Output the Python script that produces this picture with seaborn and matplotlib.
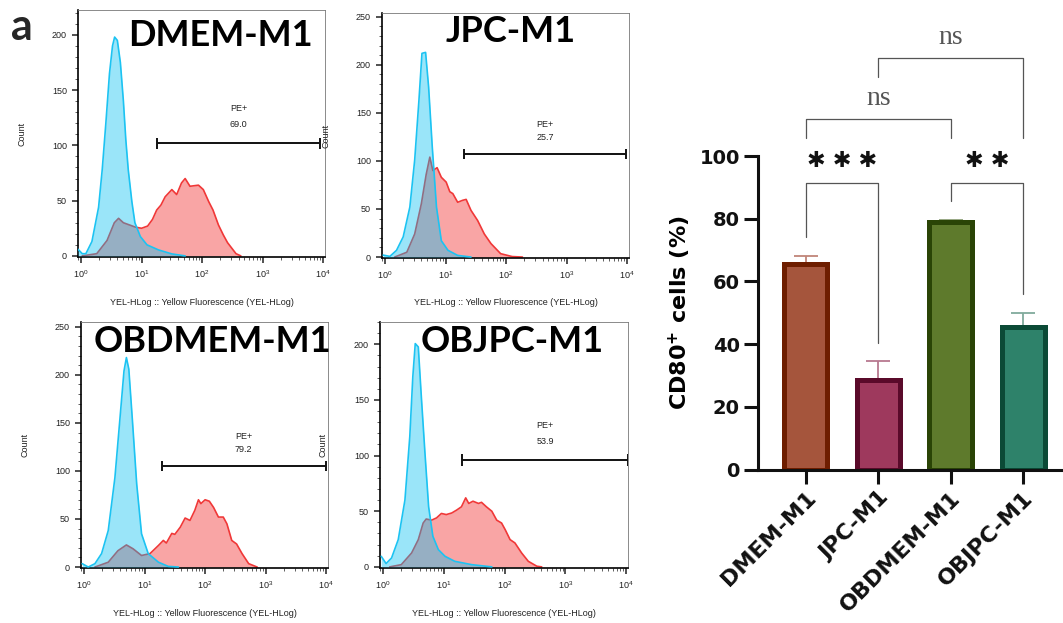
import numpy as np
import pandas as pd
import matplotlib
matplotlib.use("Agg")
import matplotlib.pyplot as plt
from matplotlib.ticker import MultipleLocator, LogLocator, NullFormatter
import seaborn as sns

# ---- bar chart data (CD80+ %) ----
groups = ["DMEM-M1", "JPC-M1", "OBDMEM-M1", "OBJPC-M1"]
cd80_mean = [65.5, 28.5, 79.0, 45.6]
cd80_err = [2.7, 6.0, 0.6, 4.2]
bar_fill = ["#A5553C", "#9E395D", "#5E7A2C", "#2E826A"]
bar_edge = ["#6E1E00", "#5A0A2A", "#2A4406", "#0B4A36"]
err_color = ["#C08578", "#B87890", "#8FA07A", "#80AA9C"]

# significance brackets: pair, label, top, left leg end, right leg end
sig_pairs = [(0, 1), (2, 3), (0, 2), (1, 3)]
sig_labels = ["***", "**", "ns", "ns"]
sig_tops = [91.5, 91.5, 111.7, 131.2]
sig_left_ends = [74.3, 85.6, 105.6, 125.1]
sig_right_ends = [40.5, 56.0, 105.6, 105.6]

# ---- flow histograms: log10 fluorescence, count ----
dmem_blue_x = [-0.05, 0.02, 0.08, 0.18, 0.29, 0.35, 0.41, 0.47, 0.52, 0.555, 0.60, 0.65,
               0.70, 0.74, 0.78, 0.84, 0.89, 0.98, 1.09, 1.28, 1.50, 1.72]
dmem_blue_y = [6, 2, 2, 13, 44, 78, 120, 165, 190, 198, 195, 175,
               140, 105, 78, 49, 30, 17.5, 10, 5.4, 1.8, 0]
dmem_red_x = [0.02, 0.26, 0.43, 0.55, 0.62, 0.70, 0.80, 0.90, 1.00, 1.10, 1.18, 1.25, 1.32,
              1.39, 1.50, 1.58, 1.66, 1.72, 1.80, 1.94, 2.02, 2.11, 2.18, 2.27, 2.35, 2.42,
              2.49, 2.56, 2.64]
dmem_red_y = [0, 2, 14, 30, 34, 30, 28, 26, 25, 27, 33, 41.5, 46,
              53.5, 60, 55.5, 66, 70, 63, 64, 60, 49, 41.5, 28, 19, 12,
              7, 2, 0]

jpc_blue_x = [-0.03, 0.08, 0.19, 0.30, 0.41, 0.49, 0.56, 0.61, 0.67, 0.72, 0.78, 0.85,
              0.93, 1.04, 1.20, 1.42]
jpc_blue_y = [2, 0.7, 7, 21, 52, 101, 163, 212, 213, 177, 115, 52,
              17, 7, 1.7, 0]
jpc_red_x = [0.16, 0.36, 0.49, 0.60, 0.68, 0.74, 0.79, 0.86, 0.93, 1.01, 1.07, 1.12, 1.20,
             1.28, 1.34, 1.42, 1.53, 1.64, 1.75, 1.91, 2.10, 2.27]
jpc_red_y = [0, 5, 24, 55.5, 86, 104, 90, 93, 83, 78, 68, 66, 57,
             59, 60, 48.6, 38, 24, 14, 3.5, 0.5, 0]

obdmem_blue_x = [-0.03, 0.07, 0.18, 0.29, 0.40, 0.51, 0.59, 0.66, 0.70, 0.74, 0.80, 0.87,
                 0.95, 1.06, 1.23, 1.39, 1.56]
obdmem_blue_y = [3.5, 0, 3.5, 14, 38, 93, 152, 204, 218, 206, 152, 86.5,
                 34.6, 14, 5, 0.7, 0]
obdmem_red_x = [0.18, 0.40, 0.56, 0.70, 0.81, 0.95, 1.09, 1.23, 1.31, 1.36, 1.45, 1.50, 1.59,
                1.67, 1.75, 1.83, 1.89, 1.93, 2.00, 2.07, 2.14, 2.22, 2.30, 2.36, 2.44, 2.52,
                2.61, 2.72, 2.86]
obdmem_red_y = [0, 5, 17, 23, 19, 12, 14, 22.5, 27.7, 25, 35, 34, 41.5,
                51, 48.5, 59, 70, 66, 70, 68.5, 62, 52, 52, 45, 27.7, 24,
                14, 3.5, 0]

objpc_blue_x = [-0.03, 0.05, 0.14, 0.25, 0.36, 0.44, 0.49, 0.53, 0.58, 0.63, 0.69, 0.75,
                0.82, 0.91, 1.02, 1.18, 1.46, 1.79]
objpc_blue_y = [9.5, 3, 8, 24.5, 60, 117, 171, 200.6, 197.6, 153, 102, 54,
                27.5, 15.5, 9.5, 5, 2, 0]
objpc_red_x = [0.11, 0.30, 0.47, 0.58, 0.66, 0.71, 0.80, 0.88, 0.96, 1.04, 1.13, 1.21, 1.29,
               1.36, 1.41, 1.48, 1.57, 1.62, 1.70, 1.79, 1.87, 1.95, 2.01, 2.09, 2.17, 2.28,
               2.39, 2.53, 2.61]
objpc_red_y = [0, 2, 12.5, 24.5, 39.4, 43, 42, 44, 48, 47, 48.4, 51, 54,
               62, 57, 59, 57, 58, 54, 50, 42, 39.4, 33.4, 24.5, 21.5, 12.5,
               5, 0.6, 0]

panel_names = ["DMEM-M1", "JPC-M1", "OBDMEM-M1", "OBJPC-M1"]
pe_pct = ["69.0", "25.7", "79.2", "53.9"]
gate_lo = [1.25, 1.30, 1.28, 1.30]
gate_hi = [3.95, 3.98, 3.99, 4.03]
gate_y = [102, 107, 105, 96]

sns.set_style("ticks")
plt.rcParams["font.family"] = ["Liberation Sans", "DejaVu Sans"]
plt.rcParams["mathtext.fontset"] = "custom"
plt.rcParams["mathtext.rm"] = "Liberation Sans"
plt.rcParams["mathtext.bf"] = "DejaVu Sans:bold"

W, H = 1063, 623
fig = plt.figure(figsize=(10.63, 6.23), dpi=100)
fig.patch.set_facecolor("white")


def px_axes(l, t, r, b):
    return fig.add_axes([l / W, 1 - b / H, (r - l) / W, (b - t) / H])


boxes = [(78, 10, 325, 257), (382, 13, 629, 258), (81, 322, 328, 568), (380, 322, 628, 568)]
ytops = [222.5, 254, 255, 220]
name_xy = [(220, 35), (511, 32), (212, 341), (512, 342)]
curves = [
    (dmem_blue_x, dmem_blue_y, dmem_red_x, dmem_red_y),
    (jpc_blue_x, jpc_blue_y, jpc_red_x, jpc_red_y),
    (obdmem_blue_x, obdmem_blue_y, obdmem_red_x, obdmem_red_y),
    (objpc_blue_x, objpc_blue_y, objpc_red_x, objpc_red_y),
]

for i in range(4):
    ax = px_axes(*boxes[i])
    bx, by, rx, ry = curves[i]
    bx = 10 ** np.array(bx)
    rx = 10 ** np.array(rx)
    ax.fill_between(rx, ry, color="#F9A5A5", lw=0, zorder=1)
    ax.plot(rx, ry, color="#F03838", lw=1.2, zorder=2)
    ax.fill_between(bx, by, color="#03C0F2", alpha=0.4, lw=0, zorder=3)
    ax.plot(bx, by, color="#1CC3F2", lw=1.2, zorder=4)

    ax.set_xscale("log")
    ax.set_xlim(10 ** -0.05, 10 ** 4.03)
    ax.set_ylim(-1, ytops[i])
    ax.yaxis.set_major_locator(MultipleLocator(50))
    ax.yaxis.set_minor_locator(MultipleLocator(10))
    ax.xaxis.set_major_locator(LogLocator(base=10, numticks=10))
    ax.xaxis.set_minor_locator(LogLocator(base=10, subs=np.arange(2, 10), numticks=10))
    ax.xaxis.set_minor_formatter(NullFormatter())
    ax.tick_params(which="major", length=4, width=1.1, labelsize=6.5, colors="#222222", pad=4)
    ax.tick_params(which="minor", length=2, width=0.6, colors="#444444")
    for s in ["left", "bottom"]:
        ax.spines[s].set_color("black")
        ax.spines[s].set_linewidth(1.2)
    for s in ["top", "right"]:
        ax.spines[s].set_color("#777777")
        ax.spines[s].set_linewidth(0.6)

    lo, hi, gy = 10 ** gate_lo[i], 10 ** gate_hi[i], gate_y[i]
    ax.hlines(gy, lo, hi, color="#111111", lw=1.4, zorder=5)
    ax.vlines([lo, hi], gy - 5, gy + 5, color="#111111", lw=1.4, zorder=5)
    mid = 10 ** ((gate_lo[i] + gate_hi[i]) / 2)
    ax.text(mid, gy + 31, "PE+", ha="center", va="center", fontsize=6.5, color="#222222")
    ax.text(mid, gy + 17, pe_pct[i], ha="center", va="center", fontsize=6.5, color="#222222")

    ax.set_xlabel("YEL-HLog :: Yellow Fluorescence (YEL-HLog)", fontsize=6.5, color="#222222")
    ax.xaxis.set_label_coords(0.5, -0.165)
    ax.set_ylabel("Count", fontsize=6.5, color="#222222")
    ax.yaxis.set_label_coords(-0.21, 0.5)

    fig.text(name_xy[i][0] / W, 1 - name_xy[i][1] / H, panel_names[i],
             ha="center", va="center", fontsize=26, fontweight="bold",
             family=["Lato", "DejaVu Sans"], color="black", zorder=10)

fig.text(22 / W, 1 - 27 / H, "a", ha="center", va="center", fontsize=31,
         fontweight="bold", family=["Lato", "DejaVu Sans"])

# ---- bar chart ----
bar_font = ["DejaVu Sans"]
axb = px_axes(758, 156, 1063, 469.5)
df = pd.DataFrame({"group": groups, "value": cd80_mean})
sns.barplot(data=df, x="group", y="value", hue="group", palette=bar_fill,
            saturation=1, width=0.59, linewidth=3.6, errorbar=None,
            legend=False, ax=axb, zorder=2)
for bar in axb.patches:
    k = int(round(bar.get_x() + bar.get_width() / 2))
    bar.set_edgecolor(bar_edge[k])

for k in range(len(groups)):
    axb.errorbar(k, cd80_mean[k], yerr=[[0], [cd80_err[k]]], fmt="none",
                 ecolor=err_color[k], elinewidth=1.3, capsize=8.8, capthick=1.3, zorder=1)

for (a, b), lab, top, le, re in zip(sig_pairs, sig_labels, sig_tops, sig_left_ends, sig_right_ends):
    axb.plot([a, a, b, b], [le, top, top, re], color="#555555", lw=0.9,
             clip_on=False, zorder=3)
    if lab == "ns":
        axb.text((a + b) / 2, top + 6.5, lab, ha="center", va="center", fontsize=20,
                 color="#555555", family=["Liberation Serif", "DejaVu Serif"])
    else:
        axb.text((a + b) / 2, top + 6.8, " ".join("\u2731" * len(lab)), ha="center",
                 va="center", fontsize=16, color="#111111", family=["DejaVu Sans"])

axb.set_xlim(-0.66, 3.55)
axb.set_ylim(0, 100)
axb.yaxis.set_major_locator(MultipleLocator(20))
axb.set_xlabel("")
axb.set_ylabel("CD80$^{\\mathbf{+}}$ cells (%)", fontsize=16, fontweight="bold",
               family=bar_font, color="black", labelpad=5)
sns.despine(ax=axb)
for s in ["left", "bottom"]:
    axb.spines[s].set_linewidth(2.2)
    axb.spines[s].set_color("#111111")
axb.tick_params(axis="both", width=2.2, length=10, colors="#111111")
axb.tick_params(axis="y", labelsize=14, pad=3)
axb.tick_params(axis="x", labelsize=16, pad=3)
for lbl in axb.get_yticklabels():
    lbl.set_fontweight("bold")
    lbl.set_family(bar_font)
for lbl in axb.get_xticklabels():
    lbl.set_fontweight("bold")
    lbl.set_family(bar_font)
    lbl.set_rotation(45)
    lbl.set_ha("right")
    lbl.set_rotation_mode("anchor")

fig.savefig("out.png", dpi=100, facecolor="white")
